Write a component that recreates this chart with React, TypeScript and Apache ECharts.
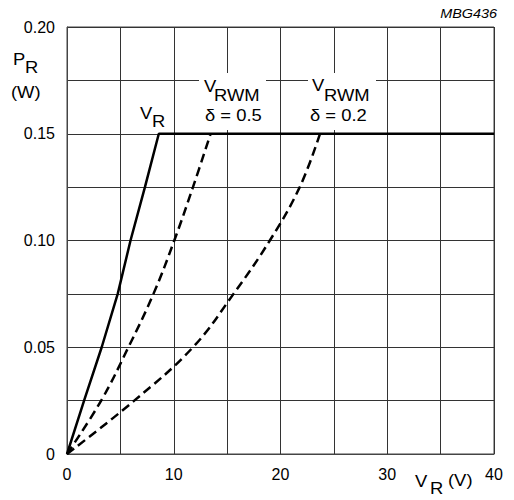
import React, { useEffect, useRef } from "react";
import * as echarts from "echarts";

const xTickLabels = ["0", "10", "20", "30", "40"];
const yTickLabels = ["0", "0.05", "0.10", "0.15", "0.20"];

// V_R curve (solid), then the 0.15 W limit line
const vrCurve: [number, number][] = [
  [0, 0], [1.6, 0.025], [3.25, 0.05], [4.75, 0.075], [5.95, 0.1], [7.3, 0.125], [8.6, 0.15], [40, 0.15],
];
// V_RWM, delta = 0.5 (dashed)
const rwm05: [number, number][] = [
  [0, 0], [3.2, 0.025], [5.75, 0.05], [8.1, 0.075], [10.05, 0.1], [11.8, 0.125], [13.45, 0.15],
];
// V_RWM, delta = 0.2 (dashed)
const rwm02: [number, number][] = [
  [0, 0], [6.3, 0.025], [11.8, 0.05], [15.6, 0.075], [19.0, 0.1], [21.8, 0.125], [23.7, 0.15],
];

const FONT = '"Liberation Sans", Arial, Helvetica, sans-serif';

function txt(text: string, x: number, y: number, size = 16, align = "left", extra: any = {}) {
  return {
    type: "text",
    x,
    y,
    z: 20,
    scaleX: extra.scaleX ?? 1.15,
    style: {
      text,
      fill: "#000",
      font: `${extra.italic ? "italic " : ""}${size}px ${FONT}`,
      textAlign: align,
      textVerticalAlign: "middle",
    },
  };
}

export default function App() {
  const ref = useRef<HTMLDivElement>(null);
  useEffect(() => {
    if (!ref.current) return;
    const chart = echarts.init(ref.current, null, { renderer: "svg" });
    const lineColor = "#333";
    chart.setOption({
      animation: false,
      backgroundColor: "#fff",
      grid: {
        left: 67,
        right: 20,
        top: 27,
        bottom: 46,
        show: true,
        borderColor: "#444",
        borderWidth: 1,
        backgroundColor: "transparent",
      },
      xAxis: {
        type: "value",
        min: 0,
        max: 40,
        interval: 5,
        axisLine: { show: true, lineStyle: { color: "#444", width: 1 } },
        axisTick: { show: false },
        splitLine: { show: true, lineStyle: { color: lineColor, width: 1 } },
        axisLabel: {
          margin: 12,
          color: "#000",
          fontSize: 16,
          fontFamily: FONT,
          formatter: (v: number) => {
            const i = Math.round(v / 10);
            return Math.abs(v - i * 10) < 1e-6 ? xTickLabels[i] ?? "" : "";
          },
        },
      },
      yAxis: {
        type: "value",
        min: 0,
        max: 0.2,
        interval: 0.025,
        axisLine: { show: true, lineStyle: { color: "#444", width: 1 } },
        axisTick: { show: false },
        splitLine: { show: true, lineStyle: { color: lineColor, width: 1 } },
        axisLabel: {
          margin: 12,
          color: "#000",
          fontSize: 16,
          fontFamily: FONT,
          formatter: (v: number) => {
            const i = Math.round(v / 0.05);
            return Math.abs(v - i * 0.05) < 1e-6 ? yTickLabels[i] ?? "" : "";
          },
        },
      },
      series: [
        {
          type: "line",
          data: vrCurve,
          showSymbol: false,
          symbol: "none",
          lineStyle: { color: "#000", width: 2.5, type: "solid" },
          z: 5,
        },
        {
          type: "line",
          data: rwm05,
          smooth: 0.4,
          showSymbol: false,
          symbol: "none",
          lineStyle: { color: "#000", width: 2.5, type: [9, 5] },
          z: 4,
        },
        {
          type: "line",
          data: rwm02,
          smooth: 0.4,
          showSymbol: false,
          symbol: "none",
          lineStyle: { color: "#000", width: 2.5, type: [9, 5] },
          z: 4,
        },
      ],
      graphic: [
        { type: "rect", z: 15, shape: { x: 199, y: 73, width: 67, height: 57 }, style: { fill: "#fff" } },
        { type: "rect", z: 15, shape: { x: 308, y: 73, width: 68, height: 57 }, style: { fill: "#fff" } },
        txt("MBG436", 497, 14, 12, "right", { italic: true, scaleX: 1.2 }),
        txt("P", 13, 59),
        txt("R", 25, 67),
        txt("(W)", 11, 92),
        txt("V", 140, 113),
        txt("R", 152, 121),
        txt("V", 204, 86),
        txt("RWM", 214, 95),
        txt("δ = 0.5", 205, 115),
        txt("V", 312, 85),
        txt("RWM", 324, 95),
        txt("δ = 0.2", 310, 115),
        txt("V", 415, 481),
        txt("R", 430, 488),
        txt("(V)", 448, 480),
      ],
    });
    return () => chart.dispose();
  }, []);
  return (
    <div
      ref={ref}
      style={{ position: "fixed", left: 0, top: 0, width: 514, height: 500, background: "#fff" }}
    />
  );
}
